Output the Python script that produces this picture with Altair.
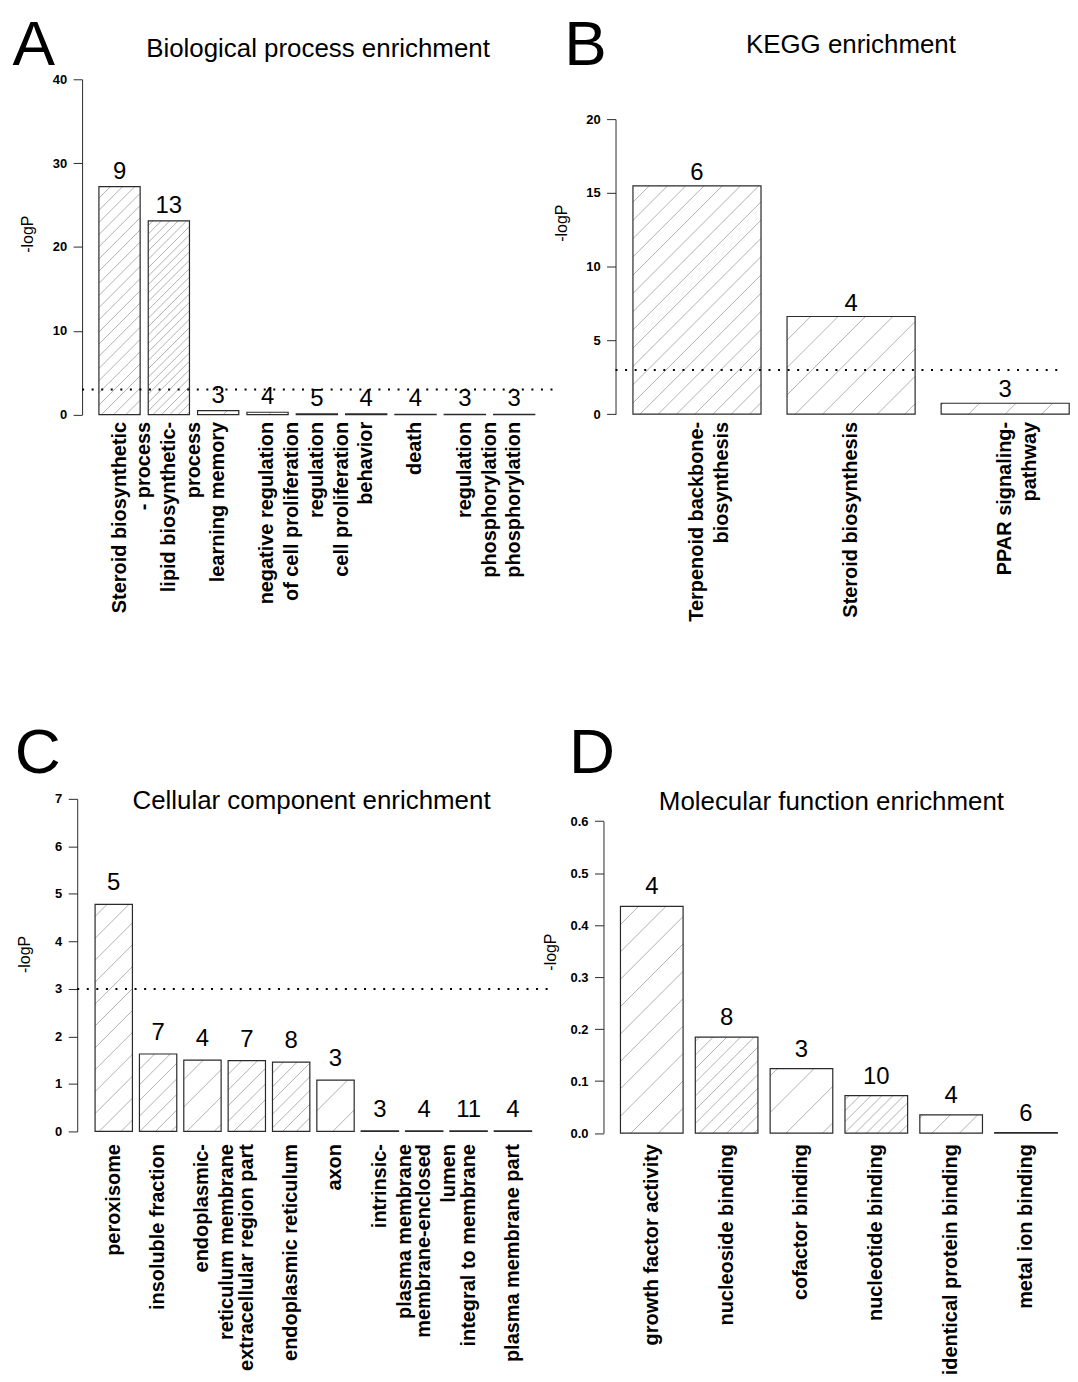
import math
import altair as alt
import pandas as pd

FONT = "Liberation Sans"
THRESHOLD = [3]

# ---------------- data ----------------
A_labels = ["Steroid biosynthetic\n- process", "lipid biosynthetic-\nprocess", "learning memory",
            "negative regulation\nof cell proliferation", "regulation\ncell proliferation", "behavior",
            "death", "regulation\nphosphorylation", "phosphorylation"]
A_values = [27.2, 23.1, 0.48, 0.28, 0.1, 0.1, 0.03, 0.03, 0.03]
A_counts = [9, 13, 3, 4, 5, 4, 4, 3, 3]
A_ticks = [0, 10, 20, 30, 40]

B_labels = ["Terpenoid backbone-\nbiosynthesis", "Steroid biosynthesis", "PPAR signaling-\npathway"]
B_values = [15.47, 6.62, 0.74]
B_counts = [6, 4, 3]
B_ticks = [0, 5, 10, 15, 20]

C_labels = ["peroxisome", "insoluble fraction", "endoplasmic-\nreticulum membrane",
            "extracellular region part", "endoplasmic reticulum", "axon",
            "intrinsic-\nplasma membrane", "membrane-enclosed\nlumen", "integral to membrane",
            "plasma membrane part"]
C_values = [4.78, 1.63, 1.50, 1.49, 1.46, 1.08, 0.01, 0.01, 0.01, 0.01]
C_counts = [5, 7, 4, 7, 8, 3, 3, 4, 11, 4]
C_ticks = [0, 1, 2, 3, 4, 5, 6, 7]

D_labels = ["growth factor activity", "nucleoside binding", "cofactor binding",
            "nucleotide binding", "identical protein binding", "metal ion binding"]
D_values = [0.436, 0.1845, 0.124, 0.072, 0.035, 0.001]
D_counts = [4, 8, 3, 10, 4, 6]
D_ticks = [0, 0.1, 0.2, 0.3, 0.4, 0.5, 0.6]

HATCH_K = 110.0  # horizontal hatch spacing (px) = HATCH_K / gene count


def panel(letter, title, labels, values, counts, ticks, fmt, L, threshold=True):
    n = len(values)
    step, w, h = L["step"], L["w"], L["h"]
    d0 = -L["c0"] / step
    d1 = d0 + w / step
    hb = L["bw"] / (2 * step)
    ymax = ticks[-1]
    r0, r1 = L["yr"]
    ppy = (r0 - r1) / ymax

    df = pd.DataFrame({
        "i": list(range(n)), "label": labels, "value": values,
        "count": [str(c) for c in counts],
    })
    df["x0"] = df["i"] - hb
    df["x1"] = df["i"] + hb
    df["base"] = 0.0

    # hatch segments (45 degree lines clipped to each bar)
    segs = []
    for i, (v, c) in enumerate(zip(values, counts)):
        xl = (i - hb - d0) * step
        xr = (i + hb - d0) * step
        hp = v * ppy
        if hp < 1.5:
            continue
        s = HATCH_K / c
        k0 = math.ceil((xl - hp) / s)
        k1 = math.floor(xr / s)
        for k in range(k0, k1 + 1):
            cc = k * s
            xs_ = max(xl, cc)
            xe_ = min(xr, cc + hp)
            if xe_ - xs_ > 0.4:
                segs.append({"xa": d0 + xs_ / step, "xb": d0 + xe_ / step,
                             "ya": (xs_ - cc) / ppy, "yb": (xe_ - cc) / ppy})
    hdf = pd.DataFrame(segs)

    xs = alt.Scale(domain=[d0, d1], nice=False, zero=False)
    ys = alt.Scale(domain=[0, ymax], range=[r0, r1], nice=False, zero=True)
    yax = alt.Axis(
        values=ticks, format=fmt, title="-logP", offset=L["off"], grid=False,
        tickSize=9, tickColor="#2a2a2a", domainColor="#2a2a2a", domainWidth=1, tickWidth=1,
        labelPadding=6.5, labelFont=FONT, labelFontSize=13, labelFontWeight="bold",
        labelColor="black", titleFont=FONT, titleFontSize=16, titleFontWeight="normal",
        titleColor="black", titleX=L["tx"], titleY=L["ty"], titleAngle=270,
        titleAlign="center", titleBaseline="middle")

    base = alt.Chart(df)
    fill = base.mark_rect(fill="white", stroke=None).encode(
        x=alt.X("x0:Q", scale=xs, axis=None), x2="x1",
        y=alt.Y("value:Q", scale=ys, axis=yax), y2="base")
    hatch = alt.Chart(hdf).mark_rule(color="#a8a8a8", strokeWidth=0.9).encode(
        x=alt.X("xa:Q", scale=xs, axis=None), x2="xb",
        y=alt.Y("ya:Q", scale=ys, axis=yax), y2="yb")
    outline = base.mark_rect(fill=None, stroke="#2a2a2a", strokeWidth=1.2).encode(
        x=alt.X("x0:Q", scale=xs, axis=None), x2="x1",
        y=alt.Y("value:Q", scale=ys, axis=yax), y2="base")
    nums = base.mark_text(font=FONT, fontSize=24, baseline="alphabetic", align="center",
                          dy=-L["gap"], color="black").encode(
        x=alt.X("i:Q", scale=xs, axis=None),
        y=alt.Y("value:Q", scale=ys, axis=yax), text="count:N")
    cats = base.mark_text(font=FONT, fontSize=20, fontWeight="bold", angle=270, align="right",
                          baseline="middle", lineBreak="\n", lineHeight=25, color="black").encode(
        x=alt.X("i:Q", scale=xs, axis=None), y=alt.value(L["ly"]), text="label:N")
    tdf = pd.DataFrame({"letter": [letter], "title": [title]})
    let = alt.Chart(tdf).mark_text(font=FONT, fontSize=64, align="left", baseline="alphabetic",
                                   color="black").encode(
        x=alt.value(L["lx"]), y=alt.value(L["lyy"]), text="letter:N")
    tit = alt.Chart(tdf).mark_text(font=FONT, fontSize=26, align="center", baseline="alphabetic",
                                   color="black").encode(
        x=alt.value(L["tcx"]), y=alt.value(L["tcy"]), text="title:N")

    layers = [fill, hatch, outline]
    if threshold:
        rule = alt.Chart(pd.DataFrame({"t": THRESHOLD})).mark_rule(
            color="black", strokeWidth=2, strokeDash=[2, 7.6]).encode(
            y=alt.Y("t:Q", scale=ys, axis=yax),
            x=alt.value(-L["off"]), x2=alt.value(w))
        layers.append(rule)
    layers += [nums, cats, let, tit]
    return alt.layer(*layers).properties(width=w, height=h)


LA = dict(w=477.5, h=336.7, c0=42.5, step=49.54, bw=41.4, yr=[336.7, 0], off=-4.9, ly=344,
          gap=8, tx=-54.4, ty=155, lx=-65, lyy=-14.3, tcx=241.8, tcy=-22.7)
LB = dict(w=462.5, h=336.7, c0=93.9, step=154.75, bw=128.6, yr=[336.3, 40], off=-12.1, ly=344,
          gap=6, tx=-54.6, ty=144, lx=-39.3, lyy=-14.3, tcx=248.5, tcy=-26)
LC = dict(w=477.5, h=336, c0=36.7, step=44.54, bw=37.5, yr=[334, 0], off=0, ly=346.7,
          gap=14, tx=-53, ty=155.7, lx=-62.7, lyy=-26.3, tcx=235.3, tcy=10)
LD = dict(w=462.5, h=336, c0=48.5, step=75.16, bw=62.9, yr=[335.7, 22.4], off=0, ly=346.7,
          gap=12, tx=-53.6, ty=153.4, lx=-34.5, lyy=-26.3, tcx=228.9, tcy=11.7)

pA = panel("A", "Biological process enrichment", A_labels, A_values, A_counts, A_ticks, "d", LA)
pB = panel("B", "KEGG enrichment", B_labels, B_values, B_counts, B_ticks, "d", LB)
pC = panel("C", "Cellular component enrichment", C_labels, C_values, C_counts, C_ticks, "d", LC)
pD = panel("D", "Molecular function enrichment", D_labels, D_values, D_counts, D_ticks, ".1f", LD,
           threshold=False)

chart = alt.concat(pA, pB, pC, pD, columns=2, bounds="flush",
                   spacing={"row": 385.6, "column": 50.5}).properties(
    padding={"left": 4.5, "top": 2.7, "right": 0, "bottom": 0},
    background="white",
).configure_view(stroke=None)

chart.save("out.html", embed_options={"renderer": "svg", "actions": False})
